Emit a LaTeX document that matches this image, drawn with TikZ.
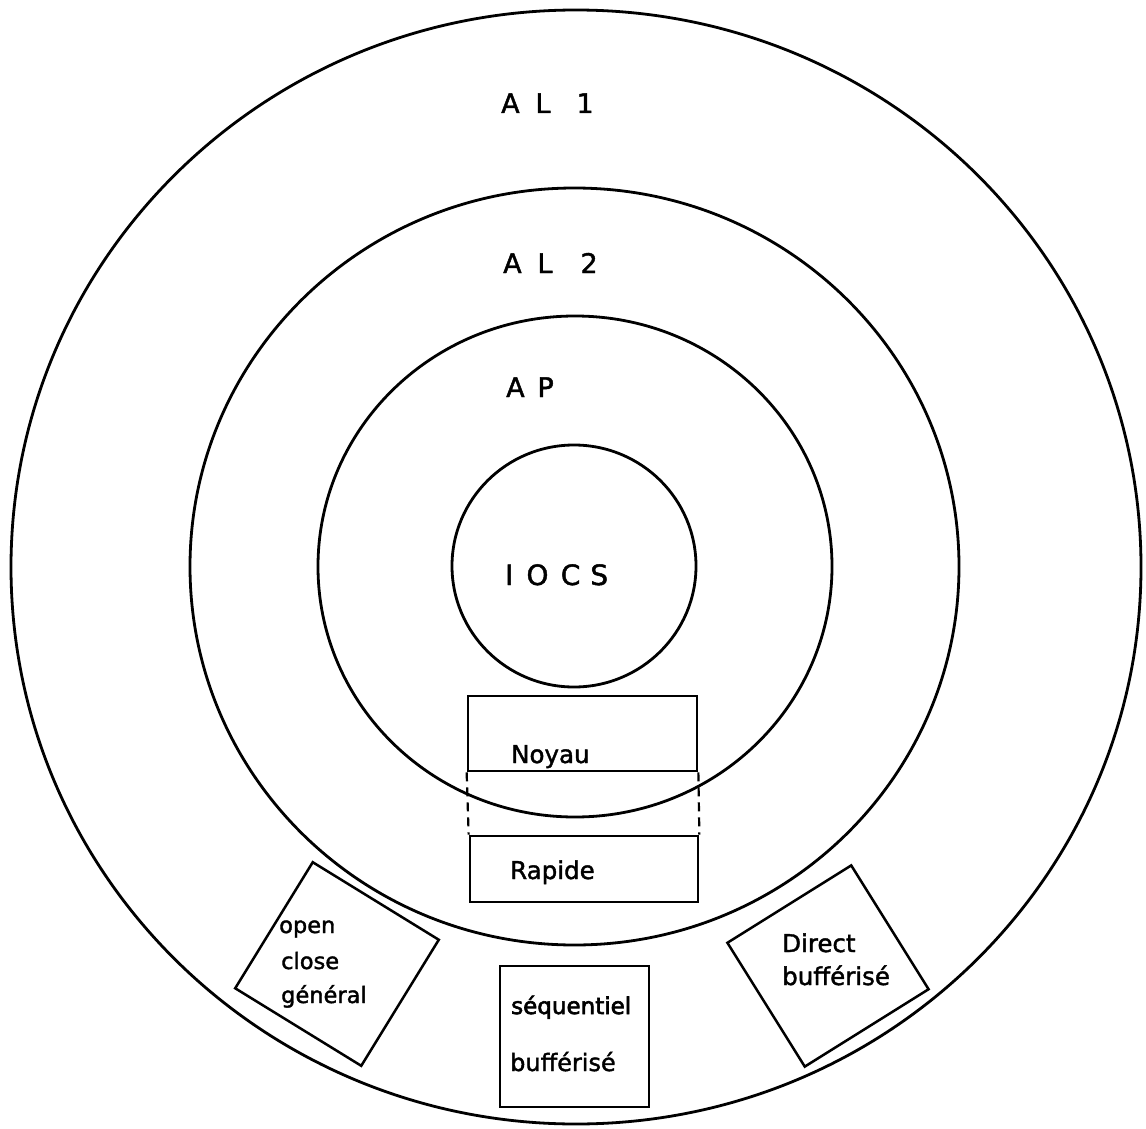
\documentclass[tikz,border=0pt]{standalone}
\usepackage{fontspec}
\setmainfont{DejaVu Sans}[RawFeature={embolden=1.6}]
\newfontfamily\heavyfont{DejaVu Sans}[RawFeature={embolden=2.6}]
\tikzset{
  ring/.style={line width=2.8pt},
  boxstyle/.style={draw, line width=2.7pt, rectangle, inner sep=0pt},
  tiltbox/.style={draw, line width=2.5pt, rectangle, inner sep=0pt, minimum width=148pt, minimum height=148pt},
  lab/.style={inner sep=0pt, anchor=base west, font=\fontsize{27}{30}\selectfont},
  boxtxt/.style={inner sep=0pt, anchor=base west, font=\fontsize{24.5}{30}\selectfont},
  smalltxt/.style={inner sep=0pt, anchor=base west, font=\fontsize{22.5}{30}\selectfont}
}
\begin{document}
\begin{tikzpicture}[x=1pt,y=-1pt]
\useasboundingbox (0,0) rectangle (1146,1129);
% rings
\draw[ring] (576,567) ellipse [x radius=565, y radius=557];
\draw[ring] (574.5,566.5) ellipse [x radius=384.5, y radius=378.5];
\draw[ring] (575,566.5) ellipse [x radius=257, y radius=250.5];
\draw[ring] (574,566) ellipse [x radius=122, y radius=121];
% ring labels
\node[lab] (al1) at (501,113) {A\hspace{15.8pt}L\hspace{26pt}1};
\node[lab] (al2) at (503,273) {A\hspace{15.8pt}L\hspace{28pt}2};
\node[lab] (ap) at (506,397) {A\hspace{12.8pt}P};
\node[lab, font=\fontsize{28}{30}\selectfont] (iocs) at (505,585) {I\hspace{13pt}O\hspace{12.3pt}C\hspace{10pt}S};
% central boxes
\node[boxstyle, minimum width=229pt, minimum height=75pt] (noyau) at (582.5,733.5) {};
\node[boxstyle, minimum width=228pt, minimum height=66pt] (rapide) at (584,869) {};
\draw[line width=2.2pt, dashed, dash pattern=on 9pt off 6pt] (noyau.south west) -- (rapide.north west);
\draw[line width=2.2pt, dashed, dash pattern=on 9pt off 6pt] (noyau.south east) -- (rapide.north east);
\node[boxtxt] (tnoyau) at (511,763) {Noyau};
\node[boxtxt] (trapide) at (510,879) {Rapide};
% sequential box
\node[boxstyle, minimum width=149pt, minimum height=141pt] (seq) at (574.5,1036.5) {};
\node[boxtxt, font=\heavyfont\fontsize{23}{30}\selectfont] (tseq1) at (511,1014) {séquentiel};
\node[boxtxt, font=\fontsize{24}{30}\selectfont] (tseq2) at (510,1071) {bufférisé};
% tilted boxes
\node[tiltbox, rotate=-31.6] (openbox) at (337,964) {};
\node[smalltxt] (topen) at (279,933) {open};
\node[smalltxt] (tclose) at (281,969) {close};
\node[smalltxt] (tgen) at (281,1003) {général};
\node[tiltbox, minimum width=146pt, minimum height=146pt, rotate=32] (directbox) at (828,966) {};
\node[boxtxt] (tdirect) at (782,952) {Direct};
\node[boxtxt] (tbuf) at (782,985) {bufférisé};
\end{tikzpicture}
\end{document}
